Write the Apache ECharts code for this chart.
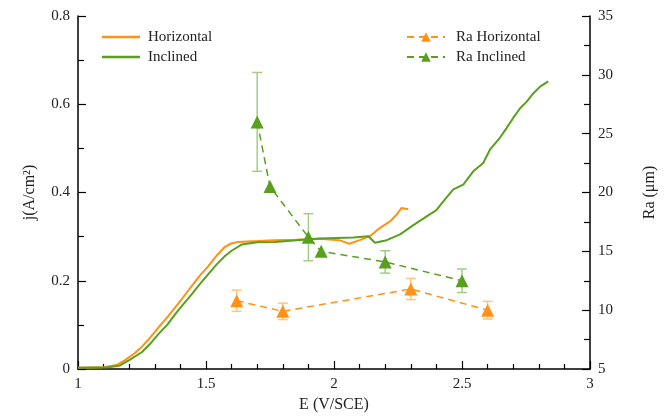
<!DOCTYPE html>
<html>
<head>
<meta charset="utf-8">
<script src="https://cdn.jsdelivr.net/npm/echarts@6/dist/echarts.min.js"></script>
<style>html,body{margin:0;padding:0;background:#fff;}#c{width:668px;height:418px;}</style>
</head>
<body>
<div id="c"></div>
<script>
// Current density curves (E in V/SCE, j in A/cm2)
const horizE = [1.00,1.10,1.15,1.184,1.22,1.249,1.28,1.314,1.35,1.379,1.41,1.444,1.475,1.509,1.54,1.574,1.60,1.626,1.70,1.77,1.85,1.945,2.02,2.06,2.10,2.14,2.18,2.22,2.245,2.264,2.29];
const horizJ = [0.003,0.004,0.009,0.020,0.035,0.050,0.070,0.094,0.118,0.139,0.162,0.188,0.211,0.233,0.256,0.277,0.285,0.288,0.290,0.292,0.293,0.295,0.292,0.284,0.292,0.301,0.320,0.335,0.350,0.365,0.362];
const inclE = [1.00,1.12,1.164,1.20,1.249,1.28,1.314,1.35,1.379,1.41,1.444,1.475,1.509,1.54,1.574,1.60,1.639,1.70,1.77,1.854,1.945,2.076,2.134,2.16,2.206,2.258,2.31,2.362,2.40,2.427,2.466,2.505,2.544,2.583,2.609,2.648,2.674,2.70,2.727,2.753,2.779,2.805,2.837];
const inclJ = [0.003,0.004,0.008,0.020,0.038,0.056,0.079,0.101,0.124,0.146,0.169,0.192,0.215,0.236,0.256,0.268,0.282,0.287,0.288,0.292,0.296,0.298,0.301,0.286,0.292,0.305,0.326,0.346,0.360,0.380,0.407,0.418,0.448,0.467,0.497,0.524,0.546,0.569,0.591,0.606,0.625,0.640,0.652];

// Roughness Ra (um) with error bars
const raHorizE = [1.62,1.80,2.30,2.60];
const raHorizVal = [10.8,9.9,11.8,10.0];
const raHorizErr = [0.9,0.7,0.9,0.75];
const raInclE = [1.70,1.75,1.90,1.95,2.20,2.50];
const raInclVal = [26.0,20.5,16.2,15.0,14.1,12.5];
const raInclErr = [4.2,0,2.0,0,0.95,1.0];

const xTicks = {min:1, max:3, interval:0.5};
const yLeftTicks = {min:0, max:0.8, interval:0.2};
const yRightTicks = {min:5, max:35, interval:5};

const ORANGE = '#FF9214';
const GREEN = '#58A01E';
const ORANGE_ERR = '#FFC47E';
const GREEN_ERR = '#A3CD85';
const FONT = '"Liberation Serif","Times New Roman",serif';

function pairs(xs, ys){ return xs.map((x,i)=>[x, ys[i]]); }
function errData(xs, vals, errs){ return xs.map((x,i)=>[x, vals[i]-errs[i], vals[i]+errs[i]]); }

function errRender(color){
  return function(params, api){
    const x = api.value(0), lo = api.value(1), hi = api.value(2);
    if (hi - lo <= 0) return null;
    const pLo = api.coord([x, lo]);
    const pHi = api.coord([x, hi]);
    const hw = 5;
    const st = {stroke: color, lineWidth: 1.5};
    return {type:'group', children:[
      {type:'line', shape:{x1:pLo[0], y1:pLo[1], x2:pHi[0], y2:pHi[1]}, style:st},
      {type:'line', shape:{x1:pLo[0]-hw, y1:pLo[1], x2:pLo[0]+hw, y2:pLo[1]}, style:st},
      {type:'line', shape:{x1:pHi[0]-hw, y1:pHi[1], x2:pHi[0]+hw, y2:pHi[1]}, style:st}
    ]};
  };
}

const axisLabelStyle = {fontFamily: FONT, fontSize: 15, color: '#222'};
const legendText = {fontFamily: FONT, fontSize: 15, color: '#222', lineHeight: 20};
const chart = echarts.init(document.getElementById('c'), null, {renderer:'canvas'});
chart.setOption({
  animation: false,
  backgroundColor: '#fff',
  grid: {left: 78, right: 78, top: 16, bottom: 48, containLabel: false},
  legend: [
    {data: [{name:'Horizontal', icon:'rect'},{name:'Inclined', icon:'rect'}], orient: 'vertical', left: 97, top: 22,
     itemWidth: 38, itemHeight: 2.5, itemGap: 0, textStyle: Object.assign({padding:[0,0,0,3]}, legendText)},
    {data: ['Ra Horizontal','Ra Inclined'], orient: 'vertical', left: 401, top: 22, itemWidth: 38, itemHeight: 12, itemGap: 0,
     textStyle: Object.assign({padding:[0,0,0,6]}, legendText)}
  ],
  xAxis: {
    type: 'value', min: xTicks.min, max: xTicks.max, interval: xTicks.interval,
    name: 'E (V/SCE)', nameLocation: 'middle', nameGap: 28,
    nameTextStyle: {fontFamily: FONT, fontSize: 16, color: '#222'},
    axisLine: {onZero: false, lineStyle: {color: '#000', width: 1.5}},
    axisTick: {inside: true, length: 8, lineStyle: {color: '#000', width: 1.2}},
    minorTick: {show: true, splitNumber: 5, length: 5, lineStyle: {color: '#000', width: 1.2}},
    axisLabel: Object.assign({margin: 8, formatter: v => String(v)}, axisLabelStyle),
    splitLine: {show: false}
  },
  yAxis: [
    {
      type: 'value', min: yLeftTicks.min, max: yLeftTicks.max, interval: yLeftTicks.interval,
      name: 'j(A/cm²)', nameLocation: 'middle', nameGap: 40, nameRotate: 90,
      nameTextStyle: {fontFamily: FONT, fontSize: 16, color: '#222'},
      axisLine: {show: true, onZero: false, lineStyle: {color: '#000', width: 1.5}},
      axisTick: {show: true, inside: true, length: 8, lineStyle: {color: '#000', width: 1.2}},
      minorTick: {show: true, splitNumber: 2, length: 6, lineStyle: {color: '#000', width: 1.2}},
      axisLabel: Object.assign({margin: 8, formatter: v => String(v)}, axisLabelStyle),
      splitLine: {show: false}
    },
    {
      type: 'value', position: 'right', min: yRightTicks.min, max: yRightTicks.max, interval: yRightTicks.interval,
      name: 'Ra (μm)', nameLocation: 'middle', nameGap: 52, nameRotate: 90,
      nameTextStyle: {fontFamily: FONT, fontSize: 16, color: '#222'},
      axisLine: {show: true, onZero: false, lineStyle: {color: '#000', width: 1.5}},
      axisTick: {show: true, inside: true, length: 8, lineStyle: {color: '#000', width: 1.2}},
      minorTick: {show: true, splitNumber: 2, length: 6, lineStyle: {color: '#000', width: 1.2}},
      axisLabel: Object.assign({margin: 8}, axisLabelStyle),
      splitLine: {show: false}
    }
  ],
  series: [
    {name: 'Horizontal', type: 'line', data: pairs(horizE, horizJ), showSymbol: false, symbol: 'none',
     lineStyle: {color: ORANGE, width: 2}, itemStyle: {color: ORANGE}, z: 2},
    {name: 'Inclined', type: 'line', data: pairs(inclE, inclJ), showSymbol: false, symbol: 'none',
     lineStyle: {color: GREEN, width: 2}, itemStyle: {color: GREEN}, z: 2},
    {name: 'errH', type: 'custom', yAxisIndex: 1, data: errData(raHorizE, raHorizVal, raHorizErr),
     renderItem: errRender(ORANGE_ERR), encode: {x: 0, y: [1, 2]}, z: 3, silent: true},
    {name: 'errI', type: 'custom', yAxisIndex: 1, data: errData(raInclE, raInclVal, raInclErr),
     renderItem: errRender(GREEN_ERR), encode: {x: 0, y: [1, 2]}, z: 3, silent: true},
    {name: 'Ra Horizontal', type: 'line', yAxisIndex: 1, data: pairs(raHorizE, raHorizVal),
     symbol: 'triangle', symbolSize: 13, showSymbol: true,
     lineStyle: {color: ORANGE, width: 1.5, type: [7, 5]}, itemStyle: {color: ORANGE}, z: 4},
    {name: 'Ra Inclined', type: 'line', yAxisIndex: 1, data: pairs(raInclE, raInclVal),
     symbol: 'triangle', symbolSize: 13, showSymbol: true,
     lineStyle: {color: GREEN, width: 1.5, type: [7, 5]}, itemStyle: {color: GREEN}, z: 4}
  ]
});
</script>
</body>
</html>
